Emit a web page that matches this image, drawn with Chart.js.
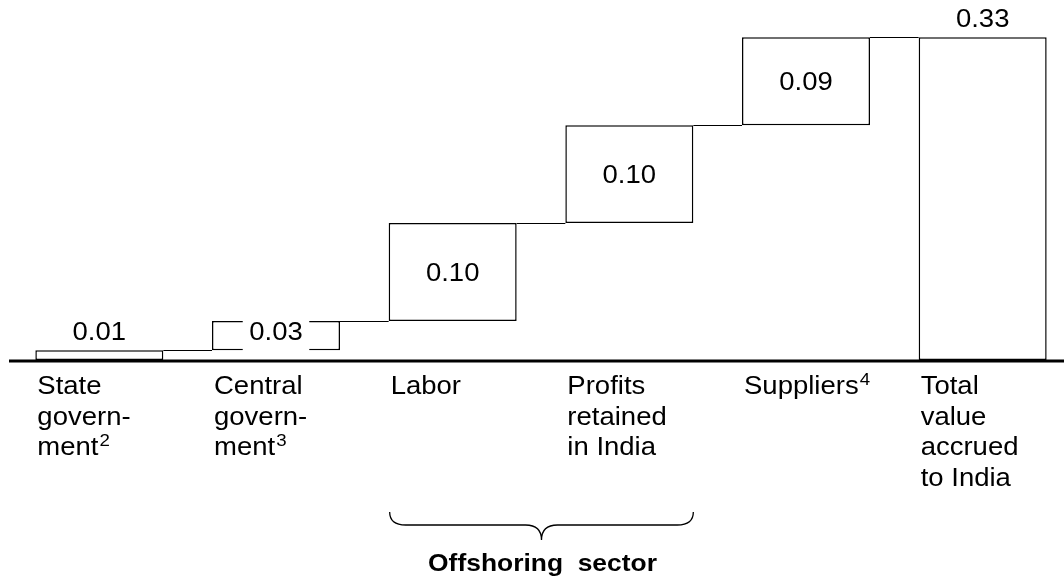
<!DOCTYPE html>
<html>
<head>
<meta charset="utf-8">
<script src="https://cdn.jsdelivr.net/npm/chart.js@4/dist/chart.umd.min.js"></script>
<style>
  html, body { margin: 0; padding: 0; background: #fff; overflow: hidden; }
  #wrap { width: 1064px; height: 582px; overflow: hidden; }
</style>
</head>
<body>
<div id="wrap"><canvas id="graph" width="1080" height="582"></canvas></div>
<script>
// data
var categories = ["State government", "Central government", "Labor",
  "Profits retained in India", "Suppliers", "Total value accrued to India"];
var steps = [0.01, 0.03, 0.10, 0.10, 0.09];   // contributions
var total = 0.33;
var valueLabels = ["0.01", "0.03", "0.10", "0.10", "0.09", "0.33"];
// tick lines, "^" marks a superscript footnote
var tickLines = [
  ["State", "govern-", "ment^2"],
  ["Central", "govern-", "ment^3"],
  ["Labor"],
  ["Profits", "retained", "in India"],
  ["Suppliers^4"],
  ["Total", "value", "accrued", "to India"]
];
var groupLabel = "Offshoring  sector";
var groupFrom = 2, groupTo = 3;

// floating bars from running sums
var floats = [];
var run = 0;
steps.forEach(function (v) {
  floats.push([run, run + v]);
  run = run + v;
});
floats.push([0, total]);

var FONT = '"Liberation Sans", Arial, sans-serif';
var SX = 1.1; // the original text is a bit wide

function wideText(ctx, txt, x, y, size, align, bold) {
  ctx.save();
  ctx.translate(x, y);
  ctx.scale(SX, 1);
  ctx.font = (bold ? 'bold ' : '') + size + 'px ' + FONT;
  ctx.textAlign = align;
  ctx.textBaseline = 'alphabetic';
  ctx.fillStyle = '#000';
  ctx.fillText(txt, 0, 0);
  ctx.restore();
}

function textWidth(ctx, txt, size, bold) {
  ctx.save();
  ctx.font = (bold ? 'bold ' : '') + size + 'px ' + FONT;
  var w = ctx.measureText(txt).width * SX;
  ctx.restore();
  return w;
}

var extras = {
  id: 'extras',
  afterDatasetsDraw: function (chart) {
    var ctx = chart.ctx;
    var bars = chart.getDatasetMeta(0).data;
    var y = chart.scales.y;
    var zero = y.getPixelForValue(0);

    // connectors between steps
    ctx.save();
    ctx.strokeStyle = '#000';
    ctx.lineWidth = 1.2;
    for (var i = 0; i < bars.length - 1; i++) {
      var lvl = Math.round(y.getPixelForValue(floats[i][1])) + 0.5;
      ctx.beginPath();
      ctx.moveTo(bars[i].x + bars[i].width / 2, lvl);
      ctx.lineTo(bars[i + 1].x - bars[i + 1].width / 2, lvl);
      ctx.stroke();
    }
    ctx.restore();

    // value labels
    bars.forEach(function (b, i) {
      var top = b.y, bot = b.base;
      var h = bot - top;
      if (i === 1) {
        // small step: label sits in a white box over the bar
        var w = textWidth(ctx, valueLabels[i], 25) + 13;
        ctx.fillStyle = '#fff';
        ctx.fillRect(b.x - w / 2, top - 2, w, h + 4);
        wideText(ctx, valueLabels[i], b.x, (top + bot) / 2 + 4, 25, 'center');
      } else if (h < 20 || i === bars.length - 1) {
        wideText(ctx, valueLabels[i], b.x, top - 10, 25, 'center');
      } else {
        wideText(ctx, valueLabels[i], b.x, (top + bot) / 2 + 9, 25, 'center');
      }
    });

    // axis line
    ctx.save();
    ctx.strokeStyle = '#000';
    ctx.lineWidth = 3;
    ctx.beginPath();
    ctx.moveTo(9, zero + 1);
    ctx.lineTo(chart.width, zero + 1);
    ctx.stroke();
    ctx.restore();

    // category labels, left aligned on the bars
    tickLines.forEach(function (lines, i) {
      var left = bars[i].x - bars[i].width / 2 + 2;
      lines.forEach(function (ln, k) {
        var base = zero + 34 + k * 30.5;
        var parts = ln.split('^');
        wideText(ctx, parts[0], left, base, 25, 'left');
        if (parts[1]) {
          var w = textWidth(ctx, parts[0], 25);
          wideText(ctx, parts[1], left + w + 1, base - 9, 17, 'left');
        }
      });
    });

    // brace under the offshoring sector
    var x0 = bars[groupFrom].x - bars[groupFrom].width / 2 + 1;
    var x1 = bars[groupTo].x + bars[groupTo].width / 2;
    var xm = (x0 + x1) / 2;
    var yt = zero + 152, ym = zero + 165, yb = zero + 180;
    ctx.save();
    ctx.strokeStyle = '#000';
    ctx.lineWidth = 1.3;
    ctx.beginPath();
    ctx.moveTo(x0, yt);
    ctx.quadraticCurveTo(x0, ym, x0 + 16, ym);
    ctx.lineTo(xm - 16, ym);
    ctx.quadraticCurveTo(xm, ym, xm, yb);
    ctx.quadraticCurveTo(xm, ym, xm + 16, ym);
    ctx.lineTo(x1 - 16, ym);
    ctx.quadraticCurveTo(x1, ym, x1, yt);
    ctx.stroke();
    ctx.restore();
    wideText(ctx, groupLabel, xm + 1, zero + 211, 24, 'center', true);
  }
};

var ctx1 = document.getElementById("graph").getContext('2d');

var myChart = new Chart(ctx1, {
  type: 'bar',
  data: {
    labels: categories,
    datasets: [{
      data: floats,
      backgroundColor: '#fff',
      borderColor: '#000',
      borderWidth: 1.5,
      borderSkipped: false,
      barPercentage: 0.7245,
      categoryPercentage: 1
    }]
  },
  options: {
    responsive: false,
    animation: false,
    layout: { padding: { left: 11, right: 9, top: 8, bottom: 222 } },
    plugins: {
      legend: { display: false },
      tooltip: { enabled: false }
    },
    scales: {
      x: { display: false },
      y: { display: false, min: 0, max: 0.36 }
    }
  },
  plugins: [extras]
});
</script>
</body>
</html>
